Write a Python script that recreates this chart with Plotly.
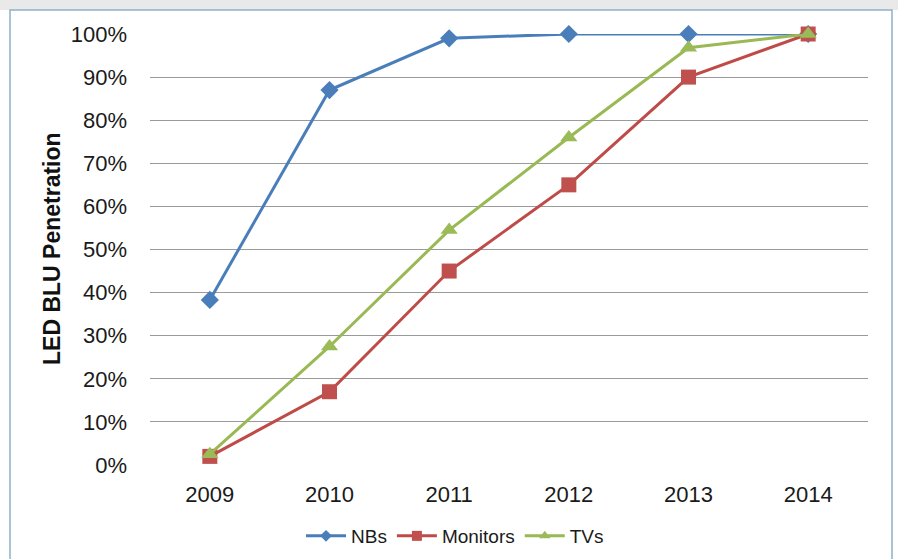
import plotly.graph_objects as go

years = ["2009", "2010", "2011", "2012", "2013", "2014"]
nbs = [0.383, 0.87, 0.99, 1.0, 1.0, 1.0]
monitors = [0.02, 0.17, 0.45, 0.65, 0.90, 1.0]
tvs = [0.025, 0.275, 0.545, 0.76, 0.968, 1.0]
y_ticks = [0, 0.1, 0.2, 0.3, 0.4, 0.5, 0.6, 0.7, 0.8, 0.9, 1.0]
y_tick_labels = ["0%", "10%", "20%", "30%", "40%", "50%", "60%", "70%", "80%", "90%", "100%"]

FONT = "Liberation Sans, Arial, sans-serif"

series = [
    ("NBs", nbs, "#4A7EBB", "#4A7EBB", "diamond", 14, 9),
    ("Monitors", monitors, "#BE4B48", "#C0504D", "square", 15, 10),
    ("TVs", tvs, "#98B954", "#9BBB59", "triangle-up", 15, 10),
]

fig = go.Figure()
for name, vals, lc, mc, sym, sz, lsz in series:
    fig.add_trace(go.Scatter(x=years, y=vals, name=name, mode="lines+markers",
                             line=dict(color=lc, width=3),
                             marker=dict(symbol=sym, size=sz, color=mc),
                             cliponaxis=False, showlegend=False))
for name, vals, lc, mc, sym, sz, lsz in series:
    fig.add_trace(go.Scatter(x=[None], y=[None], name=name, mode="lines+markers",
                             line=dict(color=lc, width=3),
                             marker=dict(symbol=sym, size=lsz, color=mc),
                             showlegend=True))

W, H = 898, 559
L, R, T, B = 150, 30, 34, 94
pw, ph = W - L - R, H - T - B

def px2x(px):
    return (px - L) / pw

def py2y(py):
    return (H - B - py) / ph

fig.update_layout(
    width=W, height=H,
    margin=dict(l=L, r=R, t=T, b=B, pad=0, autoexpand=False),
    paper_bgcolor="white", plot_bgcolor="white",
    font=dict(family=FONT, color="#1a1a1a", size=22),
    xaxis=dict(type="category", showgrid=False, zeroline=False, showline=False,
               ticks="", tickfont=dict(size=22, color="#1a1a1a"),
               ticklabelstandoff=14, range=[-0.5, 5.5]),
    yaxis=dict(range=[0, 1], tickvals=y_ticks, ticktext=y_tick_labels,
               showgrid=True, gridcolor="#9a9a9a", gridwidth=1.3,
               zeroline=False, showline=False, ticks="",
               tickfont=dict(size=22, color="#1a1a1a"), ticklabelstandoff=22),
    showlegend=True,
    legend=dict(orientation="h", xref="container", yref="container",
                x=455 / W, xanchor="center", y=1 - 536 / H, yanchor="middle",
                font=dict(size=19, color="#1a1a1a"), itemwidth=40, bgcolor="rgba(0,0,0,0)"),
    shapes=[
        dict(type="rect", xref="paper", yref="paper", x0=px2x(0), x1=px2x(W), y0=py2y(10), y1=py2y(0),
             fillcolor="#e9e9ea", line=dict(width=0), layer="below"),
        dict(type="rect", xref="paper", yref="paper", x0=px2x(10), x1=px2x(892), y0=py2y(H + 20), y1=py2y(10),
             fillcolor="rgba(0,0,0,0)", line=dict(color="#8fb0c8", width=1.5), layer="below"),
    ],
    annotations=[
        dict(text="<b>LED BLU Penetration</b>", xref="paper", yref="paper", x=px2x(52), y=py2y(249),
             xanchor="center", yanchor="middle", textangle=-90, showarrow=False,
             font=dict(size=23, color="#111111", family=FONT)),
    ],
)

fig.write_html("out.html")
